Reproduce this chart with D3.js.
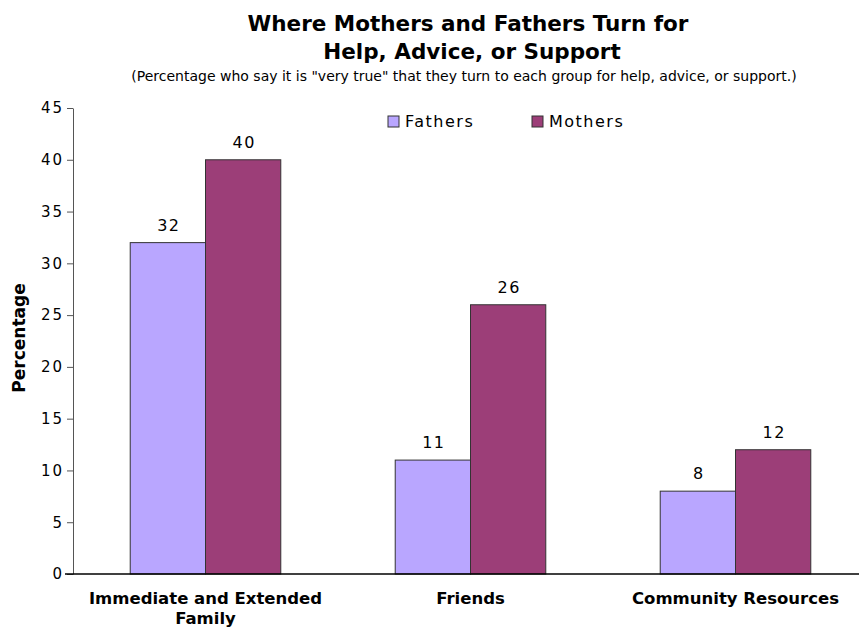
<!DOCTYPE html>
<html>
<head>
<meta charset="utf-8">
<script src="https://cdn.jsdelivr.net/npm/d3@7"></script>
<style>
body { margin: 0; background: #fff; }
text { font-family: "DejaVu Sans", Verdana, sans-serif; fill: #000; }
</style>
</head>
<body>
<svg id="chart" width="859" height="629"></svg>
<script>
// chart data
var categories = [["Immediate and Extended", "Family"], ["Friends"], ["Community Resources"]];
var seriesNames = ["Fathers", "Mothers"];
var fathers = [32, 11, 8];
var mothers = [40, 26, 12];
var yTicks = [0, 5, 10, 15, 20, 25, 30, 35, 40, 45];
var colors = ["#b9a6ff", "#9c3e78"];

var svg = d3.select("#chart");
var plotLeft = 73, plotRight = 868, plotTop = 108, plotBottom = 574;

var x0 = d3.scaleBand().domain(d3.range(categories.length)).range([plotLeft, plotRight]);
var x1 = d3.scaleBand().domain(seriesNames).range([0, x0.bandwidth()]).paddingOuter(0.76);
var y = d3.scaleLinear().domain([0, 45]).range([plotBottom, plotTop]);

// titles
svg.append("text").attr("x", 468).attr("y", 31).attr("text-anchor", "middle")
	.style("font-size", "21.5px").style("font-weight", "bold")
	.text("Where Mothers and Fathers Turn for");
svg.append("text").attr("x", 472).attr("y", 59).attr("text-anchor", "middle")
	.style("font-size", "21.5px").style("font-weight", "bold")
	.text("Help, Advice, or Support");
svg.append("text").attr("x", 464).attr("y", 81).attr("text-anchor", "middle")
	.style("font-size", "14px")
	.text("(Percentage who say it is \"very true\" that they turn to each group for help, advice, or support.)");

// y axis
var yAxis = svg.append("g").attr("transform", "translate(" + plotLeft + ",0)")
	.call(d3.axisLeft(y).tickValues(yTicks).tickSize(6).tickSizeOuter(0));
yAxis.select(".domain").attr("stroke", "#555");
yAxis.selectAll(".tick line").attr("stroke", "#555");
yAxis.selectAll("text").style("font-size", "15px").style("letter-spacing", "2px")
	.style("font-family", "DejaVu Sans").attr("x", -9);

svg.append("text").attr("transform", "translate(25,338) rotate(-90)")
	.attr("text-anchor", "middle").style("font-size", "17px").style("font-weight", "bold")
	.text("Percentage");

// bars
var groups = svg.selectAll("g.grp").data(categories).enter().append("g")
	.attr("class", "grp")
	.attr("transform", function(d, i) { return "translate(" + x0(i) + ",0)"; });

groups.each(function(cat, i) {
	var vals = [fathers[i], mothers[i]];
	var g = d3.select(this);
	g.selectAll("rect").data(vals).enter().append("rect")
		.attr("x", function(d, j) { return x1(seriesNames[j]); })
		.attr("y", function(d) { return y(d); })
		.attr("width", x1.bandwidth())
		.attr("height", function(d) { return y(0) - y(d); })
		.attr("fill", function(d, j) { return colors[j]; })
		.attr("stroke", "#333").attr("stroke-width", 1);
	g.selectAll("text.val").data(vals).enter().append("text")
		.attr("class", "val")
		.attr("x", function(d, j) { return x1(seriesNames[j]) + x1.bandwidth() / 2 + 1; })
		.attr("y", function(d) { return y(d) - 12; })
		.attr("text-anchor", "middle").style("font-size", "16px").style("letter-spacing", "1.5px")
		.text(function(d) { return d; });
});

// x axis line
svg.append("line").attr("x1", plotLeft - 8).attr("x2", 859).attr("y1", plotBottom).attr("y2", plotBottom)
	.attr("stroke", "#000").attr("stroke-width", 1.5);

// category labels
groups.each(function(cat, i) {
	var t = d3.select(this).append("text").attr("text-anchor", "middle")
		.style("font-size", "16.5px").style("font-weight", "bold");
	cat.forEach(function(line, k) {
		t.append("tspan").attr("x", x0.bandwidth() / 2).attr("y", 604 + k * 20).text(line);
	});
});

// legend
var legend = svg.append("g").attr("transform", "translate(388,116)");
seriesNames.forEach(function(name, j) {
	var lg = legend.append("g").attr("transform", "translate(" + (j * 144) + ",0)");
	lg.append("rect").attr("width", 11).attr("height", 11)
		.attr("fill", colors[j]).attr("stroke", "#333");
	lg.append("text").attr("x", 17).attr("y", 11)
		.style("font-size", "16px").style("letter-spacing", "1.5px").text(name);
});
</script>
</body>
</html>
